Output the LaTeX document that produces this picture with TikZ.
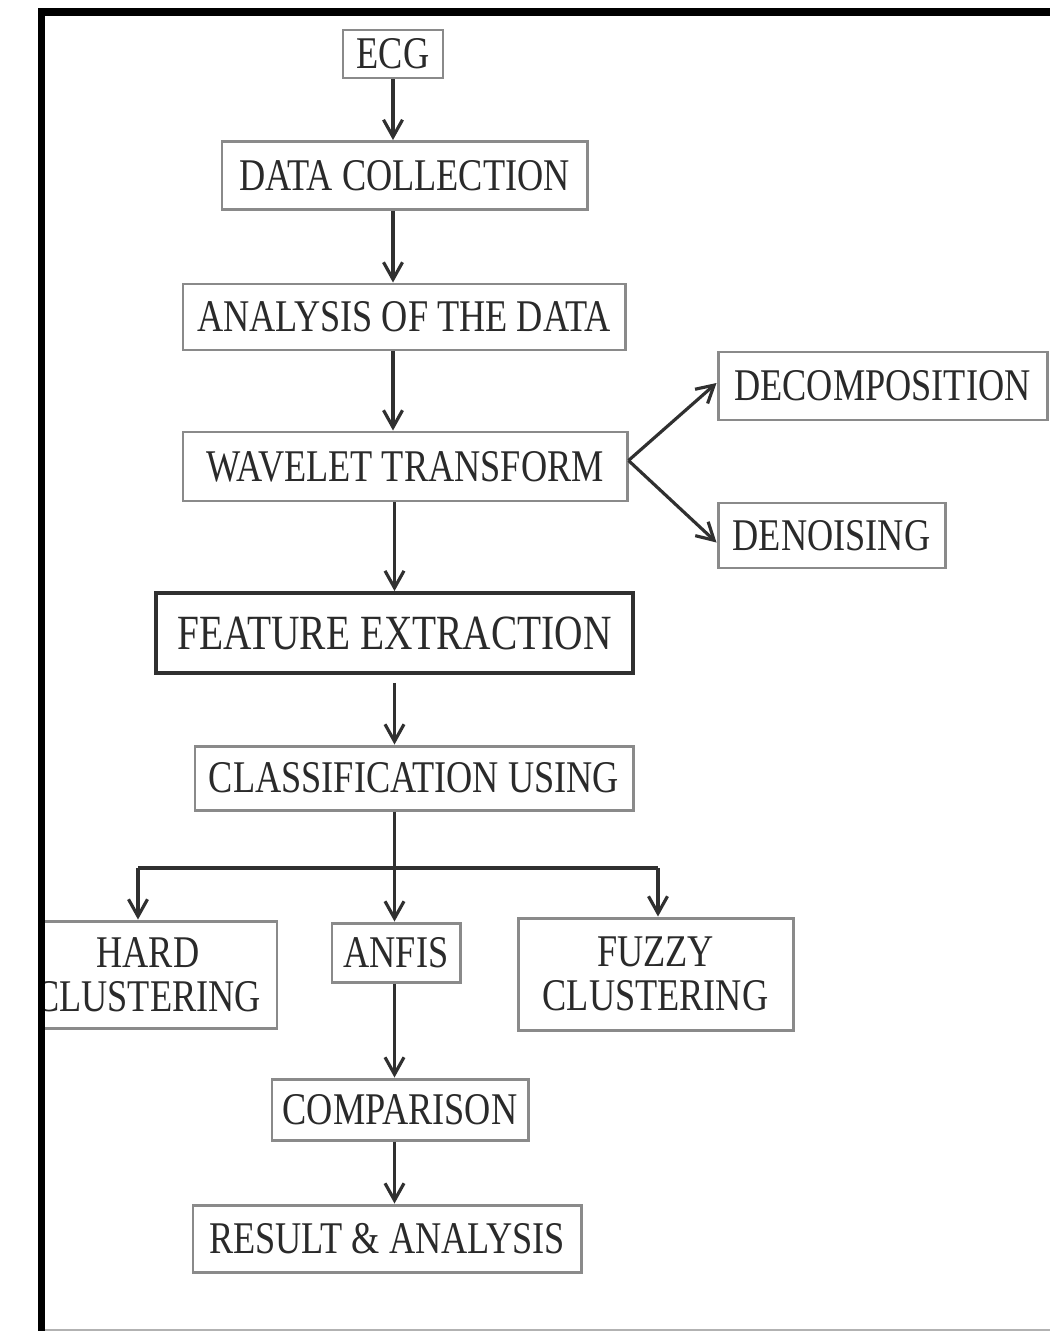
\documentclass[tikz,border=0pt]{standalone}
\usepackage{fontspec}
\setmainfont[FakeStretch=0.8]{Liberation Serif}
\usetikzlibrary{arrows.meta,calc}
\definecolor{boxgray}{HTML}{8A8A8A}
\definecolor{txt}{HTML}{2A2A2A}
\definecolor{lin}{HTML}{303030}
\begin{document}
\begin{tikzpicture}[
  x=1cm,y=1cm,
  box/.style={draw=boxgray, line width=0.85pt, fill=white, inner sep=0pt, text=txt,
    align=center, font=\fontsize{12.9}{12.5}\selectfont},
  arr/.style={draw=lin, line width=0.9pt, -{Straight Barb[length=1.7mm,width=1.9mm,line width=0.9pt]}},
  ln/.style={draw=lin, line width=0.9pt}
]
\useasboundingbox (0,0) rectangle (10.5,-13.31);
\fill[white] (0,0) rectangle (10.5,-13.31);
\begin{scope}
\clip (0.45,-0.16) rectangle (10.5,-13.31);
\node[box, minimum width=1.00cm, minimum height=0.48cm] (ecg) at (3.93,-0.54) {ECG};
\node[box, minimum width=3.65cm, minimum height=0.68cm] (dc) at (4.045,-1.755) {DATA COLLECTION};
\node[box, minimum width=4.42cm, minimum height=0.66cm] (an) at (4.04,-3.17) {ANALYSIS OF THE DATA};
\node[box, minimum width=4.44cm, minimum height=0.69cm] (wt) at (4.05,-4.665) {WAVELET TRANSFORM};
\node[box, minimum width=3.29cm, minimum height=0.68cm] (dec) at (8.825,-3.86) {DECOMPOSITION};
\node[box, minimum width=2.27cm, minimum height=0.65cm] (den) at (8.315,-5.355) {DENOISING};
\node[box, draw=lin, line width=1.1pt, minimum width=4.77cm, minimum height=0.80cm,
      font=\fontsize{14}{14}\selectfont] (fe) at (3.945,-6.33) {FEATURE EXTRACTION};
\node[box, minimum width=4.38cm, minimum height=0.64cm] (cu) at (4.14,-7.78) {CLASSIFICATION USING};
\node[box, minimum width=2.58cm, minimum height=1.07cm] (hc) at (1.48,-9.745) {HARD\\CLUSTERING};
\node[box, minimum width=1.28cm, minimum height=0.59cm] (anfis) at (3.96,-9.525) {ANFIS};
\node[box, minimum width=2.75cm, minimum height=1.12cm] (fc) at (6.555,-9.74) {FUZZY\\CLUSTERING};
\node[box, minimum width=2.56cm, minimum height=0.61cm] (cmp) at (4.00,-11.095) {COMPARISON};
\node[box, minimum width=3.88cm, minimum height=0.67cm] (res) at (3.87,-12.385) {RESULT \& ANALYSIS};

% vertical chain
\draw[arr] (ecg.south) -- (ecg.south |- dc.north);
\draw[arr] (dc.south -| ecg.south) -- (an.north -| ecg.south);
\draw[arr] (an.south -| ecg.south) -- (wt.north -| ecg.south);
\draw[arr] (wt.south -| fe.north) -- (fe.north);
\draw[arr, shorten <=0.08cm] (fe.south) -- (fe.south |- cu.north);
\draw[arr] (cu.south -| fe.south) -- (anfis.north -| fe.south);
\draw[arr] (anfis.south -| fe.south) -- (cmp.north -| fe.south);
\draw[arr] (cmp.south -| fe.south) -- (res.north -| fe.south);

% branches
\coordinate (jl) at (1.38,-8.68);
\coordinate (jr) at (6.58,-8.68);
\draw[ln, line width=1.4pt] (jl) -- (jr);
\draw[arr] (jl) -- (jl |- hc.north);
\draw[arr] (jr) -- (jr |- fc.north);

% wavelet split
\coordinate (wb) at ([yshift=0.06cm]wt.east);
\draw[arr] (wb) -- ([yshift=0.03cm]dec.west);
\draw[arr] (wb) -- ([yshift=-0.07cm]den.west);
\end{scope}

% frame
\fill[black] (0.38,-0.08) rectangle (10.5,-0.16);
\fill[black] (0.38,-0.08) rectangle (0.45,-13.31);
\draw[gray!60, line width=0.6pt] (0.45,-13.30) -- (10.5,-13.30);
\end{tikzpicture}
\end{document}
